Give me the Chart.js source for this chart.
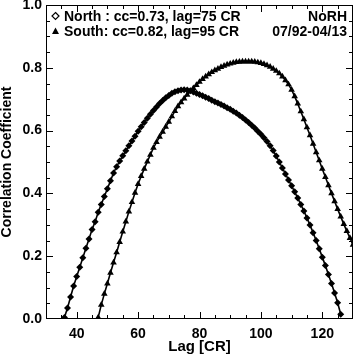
<!DOCTYPE html>
<html>
<head>
<meta charset="utf-8">
<script src="https://cdn.jsdelivr.net/npm/chart.js@4.4.0/dist/chart.umd.min.js"></script>
<style>
    html, body { margin: 0; padding: 0; background: #fff; }
    #wrap { width: 357px; height: 357px; }
</style>
</head>
<body>
<div id="wrap"><canvas id="chart" width="357" height="357"></canvas></div>
<script>
// --- DATA ---
const northLags = [36, 37, 38, 39, 40, 41, 42, 43, 44, 45, 46, 47, 48, 49, 50, 51, 52, 53, 54, 55,
    56, 57, 58, 59, 60, 61, 62, 63, 64, 65, 66, 67, 68, 69, 70, 71, 72, 73, 74, 75,
    76, 77, 78, 79, 80, 81, 82, 83, 84, 85, 86, 87, 88, 89, 90, 91, 92, 93, 94, 95,
    96, 97, 98, 99, 100, 101, 102, 103, 104, 105, 106, 107, 108, 109, 110, 111, 112, 113, 114, 115,
    116, 117, 118, 119, 120, 121, 122, 123, 124, 125, 126];
const northCC = [0.005, 0.035, 0.07, 0.105, 0.135, 0.165, 0.195, 0.225, 0.255, 0.285, 0.31, 0.34, 0.365, 0.39, 0.415, 0.44, 0.465, 0.485, 0.503, 0.52,
    0.536, 0.552, 0.567, 0.582, 0.598, 0.612, 0.626, 0.639, 0.652, 0.664, 0.675, 0.686, 0.696, 0.705, 0.712, 0.719, 0.724, 0.727, 0.729, 0.730,
    0.729, 0.727, 0.723, 0.719, 0.715, 0.711, 0.706, 0.702, 0.697, 0.692, 0.688, 0.683, 0.678, 0.673, 0.668, 0.662, 0.656, 0.649, 0.642, 0.634,
    0.626, 0.617, 0.608, 0.598, 0.588, 0.577, 0.565, 0.552, 0.537, 0.519, 0.5, 0.481, 0.462, 0.443, 0.424, 0.405, 0.385, 0.365, 0.344, 0.322,
    0.299, 0.275, 0.25, 0.224, 0.197, 0.17, 0.142, 0.113, 0.083, 0.052, 0.015];

const southLags = [47, 48, 49, 50, 51, 52, 53, 54, 55, 56, 57, 58, 59, 60, 61, 62, 63, 64, 65, 66,
    67, 68, 69, 70, 71, 72, 73, 74, 75, 76, 77, 78, 79, 80, 81, 82, 83, 84, 85, 86,
    87, 88, 89, 90, 91, 92, 93, 94, 95, 96, 97, 98, 99, 100, 101, 102, 103, 104, 105, 106,
    107, 108, 109, 110, 111, 112, 113, 114, 115, 116, 117, 118, 119, 120, 121, 122, 123, 124, 125, 126,
    127, 128, 129, 130];
const southCC = [0.005, 0.045, 0.08, 0.113, 0.147, 0.18, 0.212, 0.245, 0.278, 0.31, 0.342, 0.372, 0.402, 0.43, 0.455, 0.478, 0.501, 0.523, 0.545, 0.563,
    0.58, 0.596, 0.612, 0.628, 0.645, 0.662, 0.677, 0.69, 0.702, 0.714, 0.725, 0.735, 0.745, 0.755, 0.764, 0.772, 0.779, 0.786, 0.792, 0.797,
    0.802, 0.806, 0.81, 0.813, 0.816, 0.818, 0.819, 0.82, 0.82, 0.82, 0.82, 0.819, 0.817, 0.815, 0.812, 0.808, 0.803, 0.797, 0.79, 0.782,
    0.772, 0.76, 0.747, 0.73, 0.709, 0.686, 0.661, 0.636, 0.61, 0.585, 0.558, 0.531, 0.505, 0.478, 0.452, 0.426, 0.4, 0.375, 0.35, 0.326,
    0.302, 0.28, 0.258, 0.236];

const xTickValues = [40, 60, 80, 100, 120];
const yTickValues = [0, 0.2, 0.4, 0.6, 0.8, 1.0];
const legendLeft = ['North : cc=0.73, lag=75 CR', 'South: cc=0.82, lag=95 CR'];
const legendRight = ['NoRH', '07/92-04/13'];

// --- STYLE ---
const FONT = "'Liberation Sans', Arial, Helvetica, sans-serif";
const INK = '#000';

const toPoints = (xs, ys) => xs.map((x, i) => ({ x: x, y: ys[i] }));

// frame + inward ticks on all four sides, plus the in-plot annotation
const framePlugin = {
    id: 'frame',
    afterDatasetsDraw(chart) {
        const { ctx, chartArea: a, scales } = chart;
        const xs = scales.x, ys = scales.y;
        ctx.save();
        ctx.strokeStyle = INK;
        ctx.lineWidth = 1;
        ctx.strokeRect(a.left + 0.5, a.top + 0.5, a.right - a.left - 1, a.bottom - a.top - 1);

        ctx.beginPath();
        for (let v = 35; v < 130; v += 5) {
            const len = (v % 20 === 0) ? 7 : 4;
            const px = Math.round(xs.getPixelForValue(v)) + 0.5;
            ctx.moveTo(px, a.bottom); ctx.lineTo(px, a.bottom - len);
            ctx.moveTo(px, a.top); ctx.lineTo(px, a.top + len);
        }
        for (let k = 1; k < 20; k++) {
            const v = k * 0.05;
            const len = (k % 4 === 0) ? 7 : 4;
            const py = Math.round(ys.getPixelForValue(v)) + 0.5;
            ctx.moveTo(a.left, py); ctx.lineTo(a.left + len, py);
            ctx.moveTo(a.right, py); ctx.lineTo(a.right - len, py);
        }
        ctx.stroke();

        // annotation
        ctx.fillStyle = INK;
        ctx.font = 'bold 14px ' + FONT;
        ctx.textBaseline = 'alphabetic';
        ctx.textAlign = 'left';
        ctx.fillText(legendLeft[0], 64, 21);
        ctx.fillText(legendLeft[1], 64, 36);
        ctx.textAlign = 'right';
        ctx.fillText(legendRight[0], 347, 21);
        ctx.fillText(legendRight[1], 347, 36);

        // legend symbols
        ctx.lineWidth = 1.2;
        ctx.beginPath();
        ctx.moveTo(55.5, 12.5); ctx.lineTo(59, 16); ctx.lineTo(55.5, 19.5); ctx.lineTo(52, 16); ctx.closePath();
        ctx.stroke();
        ctx.beginPath();
        ctx.moveTo(55.5, 27.5); ctx.lineTo(59, 34); ctx.lineTo(52, 34); ctx.closePath();
        ctx.fill();
        ctx.restore();
    }
};

const ctx = document.getElementById('chart').getContext('2d');
new Chart(ctx, {
    type: 'line',
    data: {
        datasets: [
            {
                label: 'North',
                data: toPoints(northLags, northCC),
                borderColor: INK,
                backgroundColor: INK,
                borderWidth: 1.6,
                pointStyle: 'rectRot',
                pointRadius: 3.5,
                pointBorderWidth: 0,
                tension: 0
            },
            {
                label: 'South',
                data: toPoints(southLags, southCC),
                borderColor: INK,
                backgroundColor: INK,
                borderWidth: 1.6,
                pointStyle: 'triangle',
                pointRadius: 3.8,
                pointBorderWidth: 0,
                tension: 0
            }
        ]
    },
    options: {
        responsive: false,
        animation: false,
        devicePixelRatio: 1,
        layout: { padding: { top: 5, right: 1, left: 0, bottom: 0 } },
        plugins: {
            legend: { display: false },
            tooltip: { enabled: false }
        },
        scales: {
            x: {
                type: 'linear',
                min: 30,
                max: 130,
                afterBuildTicks: s => { s.ticks = xTickValues.map(v => ({ value: v })); },
                afterFit: s => { s.height = 38; s.paddingLeft = 0; s.paddingRight = 0; },
                grid: { display: false, drawTicks: false },
                border: { display: false },
                ticks: {
                    color: INK,
                    font: { family: FONT, size: 14, weight: 'bold' },
                    padding: 7,
                    maxRotation: 0,
                    autoSkip: false
                },
                title: {
                    display: true,
                    text: 'Lag [CR]',
                    color: INK,
                    font: { family: FONT, size: 15, weight: 'bold', lineHeight: 1.2 },
                    padding: { top: 0, bottom: 1 }
                }
            },
            y: {
                min: 0,
                max: 1,
                afterBuildTicks: s => { s.ticks = yTickValues.map(v => ({ value: v })); },
                afterFit: s => { s.width = 46; s.paddingTop = 0; s.paddingBottom = 0; },
                grid: { display: false, drawTicks: false },
                border: { display: false },
                ticks: {
                    color: INK,
                    font: { family: FONT, size: 14, weight: 'bold' },
                    padding: 4,
                    callback: v => v.toFixed(1)
                },
                title: {
                    display: true,
                    text: 'Correlation Coefficient',
                    color: INK,
                    font: { family: FONT, size: 14, weight: 'bold', lineHeight: 1.0 },
                    padding: { top: 0, bottom: 0 }
                }
            }
        }
    },
    plugins: [framePlugin]
});
</script>
</body>
</html>
